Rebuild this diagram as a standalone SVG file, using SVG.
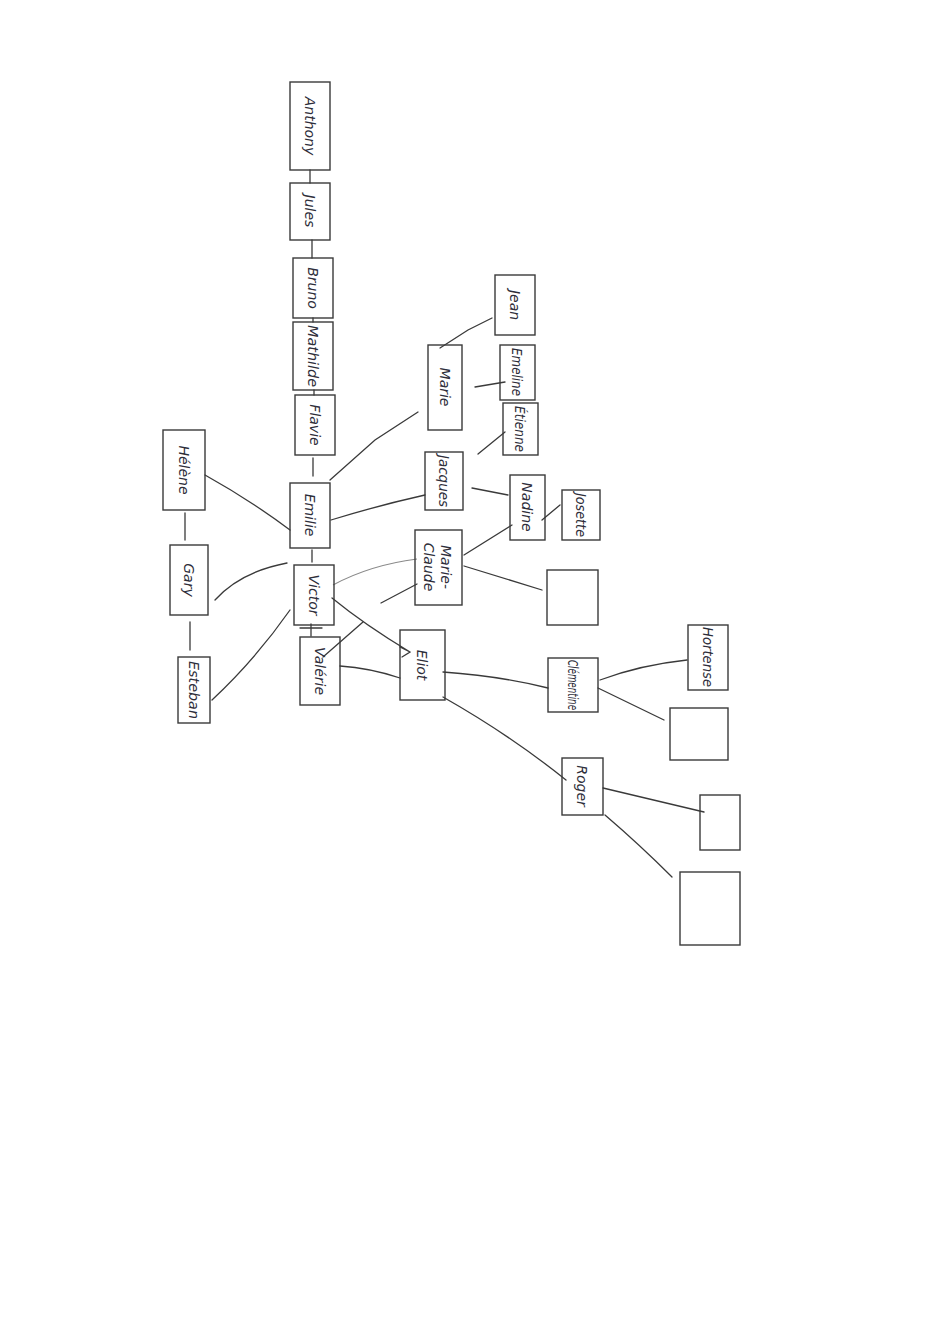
<svg xmlns="http://www.w3.org/2000/svg" width="940" height="1323" viewBox="0 0 940 1323">
<style>
.box{fill:none;stroke:#3a3a3a;stroke-width:1.4}
.lbl{font-family:"DejaVu Sans","Liberation Sans",sans-serif;font-style:italic;font-size:14px;fill:#2e2e3a;text-anchor:middle;dominant-baseline:central}
.c{fill:none;stroke:#3a3a3a;stroke-width:1.3;stroke-linecap:round}
.g{fill:none;stroke:#8a8a8a;stroke-width:1.1}
</style>
<rect width="940" height="1323" fill="#ffffff"/>
<g id="connectors">
<path class="c" d="M310 170 L310 183"/>
<path class="c" d="M312 240 L312 258"/>
<path class="c" d="M313 318 L313 322"/>
<path class="c" d="M314 390 L314 395"/>
<path class="c" d="M313 458 L313 476"/>
<path class="c" d="M312 550 L312 562"/>
<path class="c" d="M300 628 L322 628 M311 624 L311 636"/>
<path class="c" d="M185 513 L185 540"/>
<path class="c" d="M190 622 L190 650"/>
<path class="c" d="M205 475 Q250 500 290 530"/>
<path class="c" d="M215 600 Q240 572 287 563"/>
<path class="c" d="M212 700 Q255 660 290 610"/>
<path class="c" d="M330 480 L375 440 L418 412"/>
<path class="c" d="M331 520 Q380 505 425 495"/>
<path class="c" d="M440 348 L468 330 L492 318"/>
<path class="c" d="M475 387 L505 382"/>
<path class="c" d="M478 454 L505 432"/>
<path class="c" d="M472 488 L508 495"/>
<path class="c" d="M464 555 L512 525"/>
<path class="c" d="M542 520 L560 505"/>
<path class="c" d="M464 566 L542 590"/>
<path class="g" d="M333 585 Q370 565 417 559"/>
<path class="c" d="M381 603 L417 584"/>
<path class="c" d="M332 598 Q365 625 410 652 M400 647 L410 652 L402 657"/>
<path class="c" d="M323 657 L363 622"/>
<path class="c" d="M340 666 Q370 668 400 678"/>
<path class="c" d="M443 672 Q500 676 548 688"/>
<path class="c" d="M443 697 Q510 735 566 780"/>
<path class="c" d="M600 680 Q640 665 687 660"/>
<path class="c" d="M598 688 L664 720"/>
<path class="c" d="M603 788 L704 812"/>
<path class="c" d="M605 815 Q640 845 672 877"/>
</g>
<g id="n-anthony"><rect class="box" x="290" y="82" width="40" height="88"/><text class="lbl" transform="translate(310 126) rotate(90)">Anthony</text></g>
<g id="n-jules"><rect class="box" x="290" y="183" width="40" height="57"/><text class="lbl" transform="translate(310 211) rotate(90)">Jules</text></g>
<g id="n-bruno"><rect class="box" x="293" y="258" width="40" height="60"/><text class="lbl" transform="translate(313 288) rotate(90)">Bruno</text></g>
<g id="n-mathilde"><rect class="box" x="293" y="322" width="40" height="68"/><text class="lbl" transform="translate(313 356) rotate(90)" textLength="62" lengthAdjust="spacingAndGlyphs">Mathilde</text></g>
<g id="n-flavie"><rect class="box" x="295" y="395" width="40" height="60"/><text class="lbl" transform="translate(315 425) rotate(90)">Flavie</text></g>
<g id="n-emilie"><rect class="box" x="290" y="483" width="40" height="65"/><text class="lbl" transform="translate(310 515) rotate(90)">Emilie</text></g>
<g id="n-victor"><rect class="box" x="294" y="565" width="40" height="60"/><text class="lbl" transform="translate(314 595) rotate(90)">Victor</text></g>
<g id="n-valerie"><rect class="box" x="300" y="637" width="40" height="68"/><text class="lbl" transform="translate(320 671) rotate(90)">Valérie</text></g>
<g id="n-helene"><rect class="box" x="163" y="430" width="42" height="80"/><text class="lbl" transform="translate(184 470) rotate(90)">Hélène</text></g>
<g id="n-gary"><rect class="box" x="170" y="545" width="38" height="70"/><text class="lbl" transform="translate(189 580) rotate(90)">Gary</text></g>
<g id="n-esteban"><rect class="box" x="178" y="657" width="32" height="66"/><text class="lbl" transform="translate(194 690) rotate(90)" textLength="58" lengthAdjust="spacingAndGlyphs">Esteban</text></g>
<g id="n-marie"><rect class="box" x="428" y="345" width="34" height="85"/><text class="lbl" transform="translate(445 387) rotate(90)">Marie</text></g>
<g id="n-jean"><rect class="box" x="495" y="275" width="40" height="60"/><text class="lbl" transform="translate(515 305) rotate(90)">Jean</text></g>
<g id="n-emeline"><rect class="box" x="500" y="345" width="35" height="55"/><text class="lbl" transform="translate(517 372) rotate(90)" textLength="48" lengthAdjust="spacingAndGlyphs">Emeline</text></g>
<g id="n-etienne"><rect class="box" x="503" y="403" width="35" height="52"/><text class="lbl" transform="translate(520 429) rotate(90)" textLength="46" lengthAdjust="spacingAndGlyphs">Étienne</text></g>
<g id="n-jacques"><rect class="box" x="425" y="452" width="38" height="58"/><text class="lbl" transform="translate(444 481) rotate(90)" textLength="52" lengthAdjust="spacingAndGlyphs">Jacques</text></g>
<g id="n-nadine"><rect class="box" x="510" y="475" width="35" height="65"/><text class="lbl" transform="translate(527 507) rotate(90)">Nadine</text></g>
<g id="n-josette"><rect class="box" x="562" y="490" width="38" height="50"/><text class="lbl" transform="translate(581 515) rotate(90)" textLength="44" lengthAdjust="spacingAndGlyphs">Josette</text></g>
<g id="n-marie-claude"><rect class="box" x="415" y="530" width="47" height="75"/><text class="lbl" transform="translate(438 567) rotate(90)"><tspan x="0" y="-8">Marie-</tspan><tspan x="0" y="9">Claude</tspan></text></g>
<g id="n-empty1"><rect class="box" x="547" y="570" width="51" height="55"/></g>
<g id="n-eliot"><rect class="box" x="400" y="630" width="45" height="70"/><text class="lbl" transform="translate(422 665) rotate(90)">Eliot</text></g>
<g id="n-clementine"><rect class="box" x="548" y="658" width="50" height="54"/><text class="lbl" transform="translate(573 685) rotate(90)" textLength="50" lengthAdjust="spacingAndGlyphs">Clémentine</text></g>
<g id="n-hortense"><rect class="box" x="688" y="625" width="40" height="65"/><text class="lbl" transform="translate(708 657) rotate(90)" textLength="60" lengthAdjust="spacingAndGlyphs">Hortense</text></g>
<g id="n-empty2"><rect class="box" x="670" y="708" width="58" height="52"/></g>
<g id="n-roger"><rect class="box" x="562" y="758" width="41" height="57"/><text class="lbl" transform="translate(582 786) rotate(90)">Roger</text></g>
<g id="n-empty3"><rect class="box" x="700" y="795" width="40" height="55"/></g>
<g id="n-empty4"><rect class="box" x="680" y="872" width="60" height="73"/></g>
</svg>
